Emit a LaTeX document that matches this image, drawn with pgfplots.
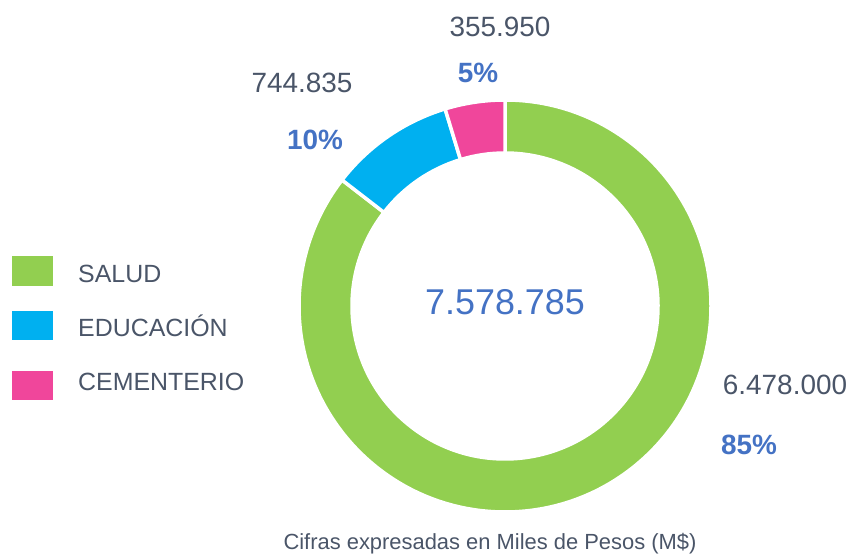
\documentclass[border=0pt]{standalone}
\usepackage{pgfplots}
\pgfplotsset{compat=1.18}
\usepackage{pgfplotstable}
\usepackage{fontspec}
\setmainfont{Liberation Sans}
\definecolor{cSalud}{RGB}{146,207,80}
\definecolor{cEdu}{RGB}{0,176,240}
\definecolor{cCem}{RGB}{240,70,155}
\definecolor{txt}{RGB}{74,85,104}
\definecolor{pct}{RGB}{68,114,196}
\pgfplotstableread{
name value
SALUD 6478000
EDUCACION 744835
CEMENTERIO 355950
}\donutdata
\begin{document}
\begin{tikzpicture}
\pgfplotstablegetelem{0}{value}\of\donutdata \edef\va{\pgfplotsretval}
\pgfplotstablegetelem{1}{value}\of\donutdata \edef\vb{\pgfplotsretval}
\pgfplotstablegetelem{2}{value}\of\donutdata \edef\vc{\pgfplotsretval}
\edef\tot{\fpeval{\va+\vb+\vc}}
\edef\aA{90}
\edef\aB{\fpeval{round(90-360*\va/\tot,4)}}
\edef\aC{\fpeval{round(\aB-360*\vb/\tot,4)}}
\edef\aD{\fpeval{round(\aC-360*\vc/\tot,4)}}
\begin{axis}[
  width=852bp, height=556bp, scale only axis,
  xmin=0, xmax=852, ymin=0, ymax=556,
  hide axis, clip=false,
]
\path (axis cs:0,0) rectangle (axis cs:852,556);
\newcommand{\seg}[3]{%
  \fill[#3, draw=white, line width=3.5bp]
   (axis cs:{505+206*cos(#1)},{250+206*sin(#1)})
   arc[start angle=#1, end angle=#2, radius=206bp]
   -- (axis cs:{505+153*cos(#2)},{250+153*sin(#2)})
   arc[start angle=#2, end angle=#1, radius=153bp] -- cycle;}
\seg{\aA}{\aB}{cSalud}
\seg{\aB}{\aC}{cEdu}
\seg{\aC}{\aD}{cCem}
% center total
\node[anchor=base, text=pct, font=\fontsize{36}{40}\selectfont] at (axis cs:505,241) {7.578.785};
% value labels
\node[anchor=base, text=txt, font=\fontsize{28}{32}\selectfont] at (axis cs:500,519) {355.950};
\node[anchor=base, text=pct, font=\fontsize{28}{32}\selectfont\bfseries] at (axis cs:478,473) {5\%};
\node[anchor=base, text=txt, font=\fontsize{28}{32}\selectfont] at (axis cs:302,463) {744.835};
\node[anchor=base, text=pct, font=\fontsize{28}{32}\selectfont\bfseries] at (axis cs:315,406) {10\%};
\node[anchor=base, text=txt, font=\fontsize{28}{32}\selectfont] at (axis cs:785,161) {6.478.000};
\node[anchor=base, text=pct, font=\fontsize{28}{32}\selectfont\bfseries] at (axis cs:749,101) {85\%};
% legend
\fill[cSalud] (axis cs:12,270) rectangle (axis cs:53,300);
\fill[cEdu] (axis cs:12,216) rectangle (axis cs:53,245);
\fill[cCem] (axis cs:12,156) rectangle (axis cs:53,185);
\node[anchor=base west, inner sep=0pt, text=txt, font=\fontsize{25}{28}\selectfont] at (axis cs:78,273) {SALUD};
\node[anchor=base west, inner sep=0pt, text=txt, font=\fontsize{25}{28}\selectfont] at (axis cs:78,219) {EDUCACIÓN};
\node[anchor=base west, inner sep=0pt, text=txt, font=\fontsize{25}{28}\selectfont] at (axis cs:78,165) {CEMENTERIO};
% caption
\node[anchor=base, inner sep=0pt, text=txt, font=\fontsize{22}{26}\selectfont] at (axis cs:490,7) {Cifras expresadas en Miles de Pesos (M\$)};
\end{axis}
\end{tikzpicture}
\end{document}
